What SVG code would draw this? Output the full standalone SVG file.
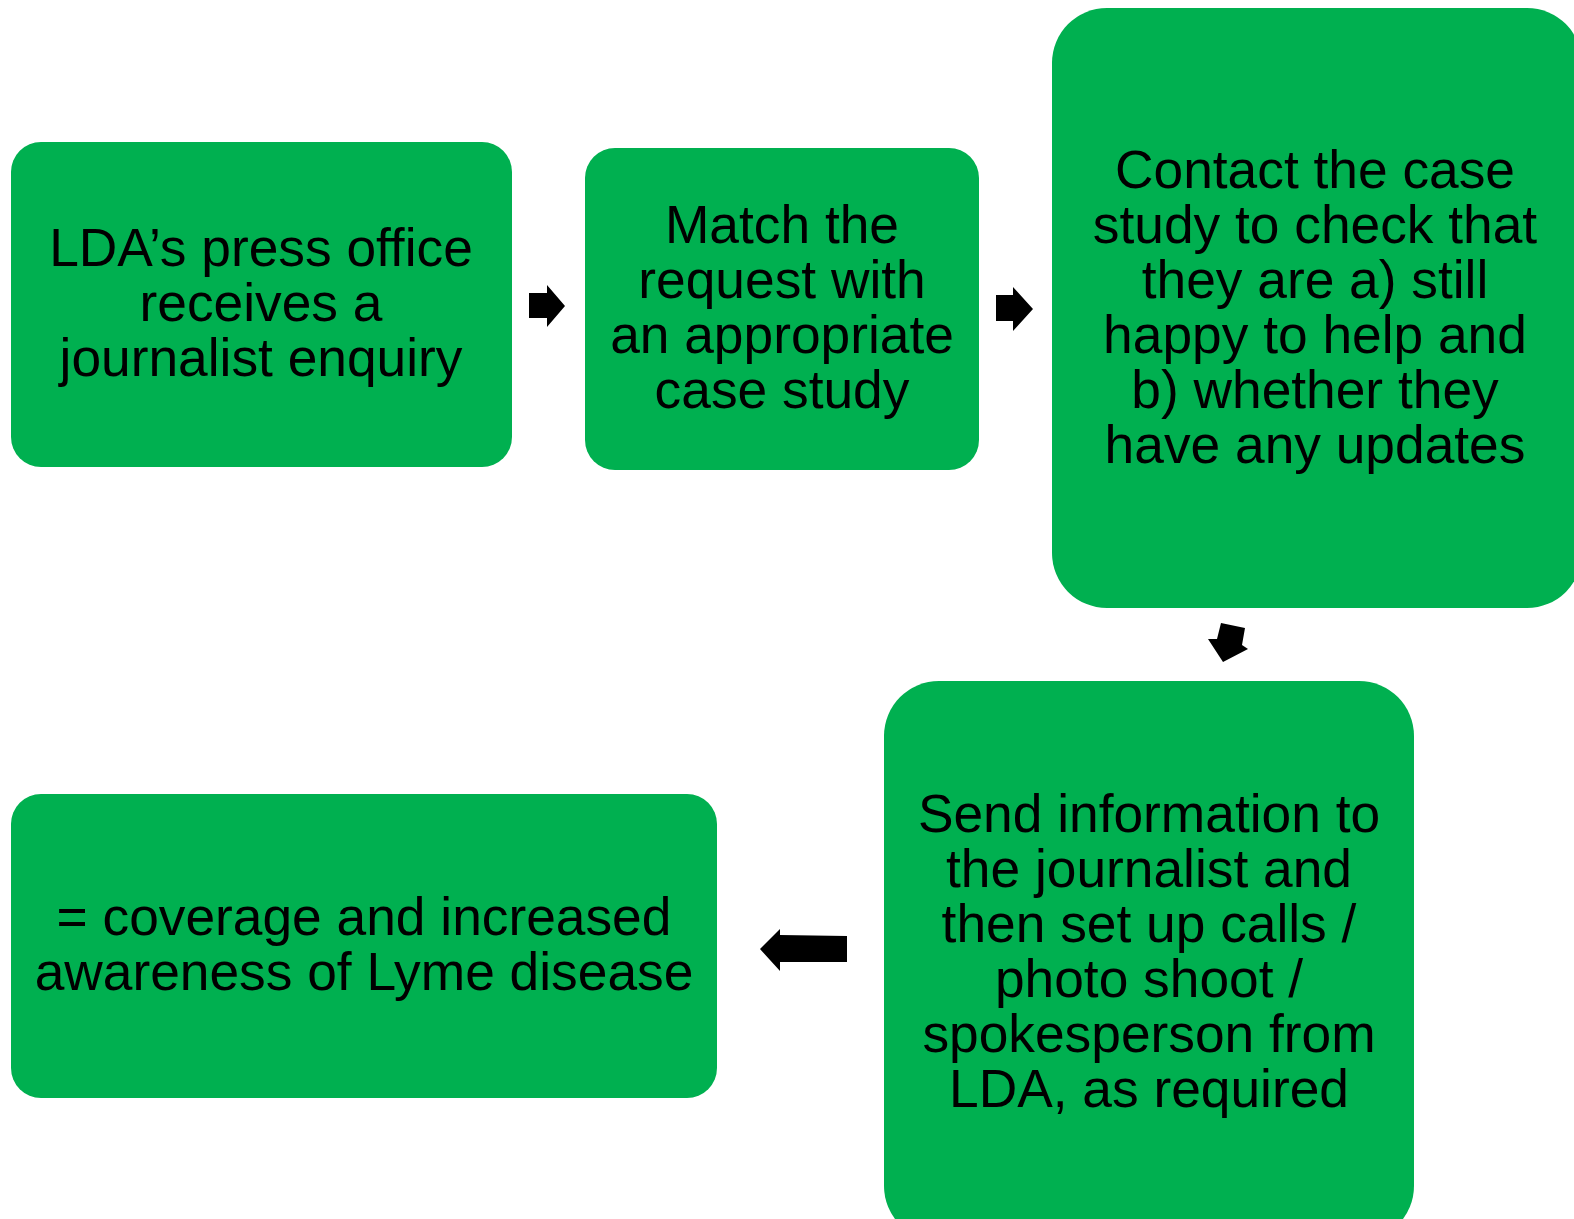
<svg xmlns="http://www.w3.org/2000/svg" width="1574" height="1219" viewBox="0 0 1574 1219">
<style>
.box{fill:#00B050;}
.t{font-family:"Liberation Sans",Arial,sans-serif;font-size:53.3px;fill:#000;text-anchor:middle;}
.arr{fill:#000;}
</style>
<rect width="1574" height="1219" fill="#fff"/>
<g id="n1">
<rect class="box" x="11" y="142" width="501" height="325" rx="30"/>
<text class="t"><tspan x="261" y="266">LDA’s press office</tspan><tspan x="261" y="321">receives a</tspan><tspan x="261" y="376">journalist enquiry</tspan></text>
</g>
<g id="n2">
<rect class="box" x="585" y="148" width="394" height="322" rx="30"/>
<text class="t"><tspan x="782" y="243">Match the</tspan><tspan x="782" y="298">request with</tspan><tspan x="782" y="353">an appropriate</tspan><tspan x="782" y="408">case study</tspan></text>
</g>
<g id="n3">
<rect class="box" x="1052" y="8" width="530" height="600" rx="55"/>
<text class="t"><tspan x="1315" y="188">Contact the case</tspan><tspan x="1315" y="243">study to check that</tspan><tspan x="1315" y="298">they are a) still</tspan><tspan x="1315" y="353">happy to help and</tspan><tspan x="1315" y="408">b) whether they</tspan><tspan x="1315" y="463">have any updates</tspan></text>
</g>
<g id="n4">
<rect class="box" x="884" y="681" width="530" height="560" rx="55"/>
<text class="t"><tspan x="1149" y="832">Send information to</tspan><tspan x="1149" y="887">the journalist and</tspan><tspan x="1149" y="942">then set up calls /</tspan><tspan x="1149" y="997">photo shoot /</tspan><tspan x="1149" y="1052">spokesperson from</tspan><tspan x="1149" y="1107">LDA, as required</tspan></text>
</g>
<g id="n5">
<rect class="box" x="11" y="794" width="706" height="304" rx="30"/>
<text class="t"><tspan x="364" y="935">= coverage and increased</tspan><tspan x="364" y="990">awareness of Lyme disease</tspan></text>
</g>
<g id="connectors">
<polygon class="arr" points="529,293 547,293 547,285 565,306 547,327 547,318 529,318"/>
<polygon class="arr" points="996,295 1013,295 1013,287 1033,309 1013,331 1013,321 996,321"/>
<polygon class="arr" points="1221,623 1245,628 1242,645 1248,649 1223,662 1208,639 1217,639"/>
<polygon class="arr" points="847,936 780,935 780,929 760,949 780,971 780,962 847,962"/>
</g>
</svg>
